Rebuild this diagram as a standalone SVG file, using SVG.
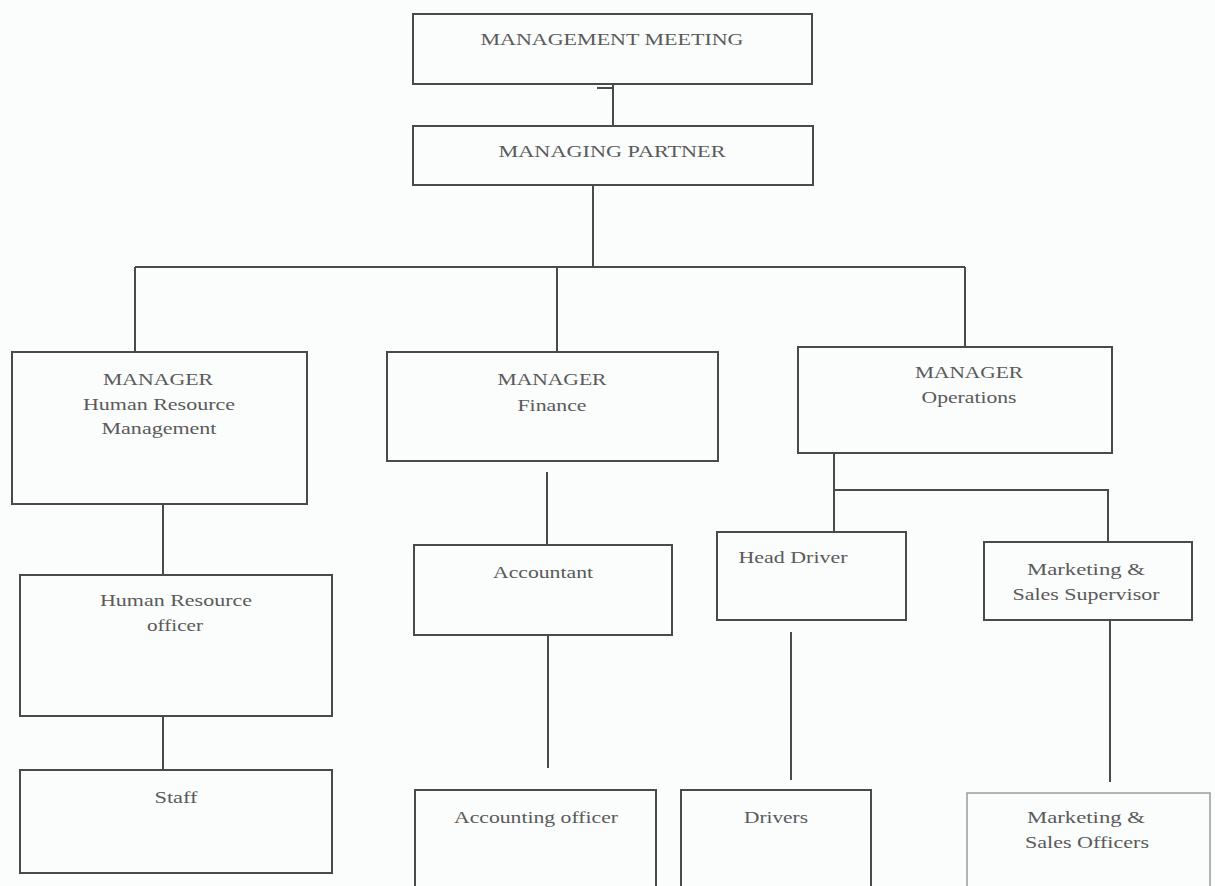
<svg xmlns="http://www.w3.org/2000/svg" width="1215" height="886" viewBox="0 0 1215 886">
<style>
.box{fill:none;stroke:#4a4a4a;stroke-width:2}
.light{fill:none;stroke:#9a9a9a;stroke-width:1.5}
.ln{fill:none;stroke:#4a4a4a;stroke-width:2}
text{font-family:"Liberation Serif","Times New Roman",serif;font-size:17px;fill:#5a5a5a;text-anchor:middle}
</style>
<rect width="1215" height="886" fill="#fbfcfc"/>
<g id="connectors">
<path class="ln" d="M613 84V126M597 88H613"/>
<path class="ln" d="M593 185V267M135 267H965M135 267V352M557 267V352M965 267V347"/>
<path class="ln" d="M163 504V575M163 716V770"/>
<path class="ln" d="M547 472V545M548 635V768"/>
<path class="ln" d="M834 453V532M834 490H1108V542"/>
<path class="ln" d="M791 632V780M1110 621V782"/>
</g>
<g id="n-meeting"><rect class="box" x="413" y="14" width="399" height="70"/><text x="612" y="45" textLength="263" lengthAdjust="spacingAndGlyphs">MANAGEMENT MEETING</text></g>
<g id="n-partner"><rect class="box" x="413" y="126" width="400" height="59"/><text x="612" y="157" textLength="227" lengthAdjust="spacingAndGlyphs">MANAGING PARTNER</text></g>
<g id="n-hrm"><rect class="box" x="12" y="352" width="295" height="152"/><text x="158" y="385" textLength="110" lengthAdjust="spacingAndGlyphs">MANAGER</text><text x="159" y="410" textLength="152" lengthAdjust="spacingAndGlyphs">Human Resource</text><text x="159" y="434" textLength="115" lengthAdjust="spacingAndGlyphs">Management</text></g>
<g id="n-fin"><rect class="box" x="387" y="352" width="331" height="109"/><text x="552" y="385" textLength="109" lengthAdjust="spacingAndGlyphs">MANAGER</text><text x="552" y="411" textLength="69" lengthAdjust="spacingAndGlyphs">Finance</text></g>
<g id="n-ops"><rect class="box" x="798" y="347" width="314" height="106"/><text x="969" y="378" textLength="108" lengthAdjust="spacingAndGlyphs">MANAGER</text><text x="969" y="403" textLength="95" lengthAdjust="spacingAndGlyphs">Operations</text></g>
<g id="n-hro"><rect class="box" x="20" y="575" width="312" height="141"/><text x="176" y="606" textLength="152" lengthAdjust="spacingAndGlyphs">Human Resource</text><text x="175" y="631" textLength="56" lengthAdjust="spacingAndGlyphs">officer</text></g>
<g id="n-staff"><rect class="box" x="20" y="770" width="312" height="103"/><text x="176" y="803" textLength="43" lengthAdjust="spacingAndGlyphs">Staff</text></g>
<g id="n-acc"><rect class="box" x="414" y="545" width="258" height="90"/><text x="543" y="578" textLength="100" lengthAdjust="spacingAndGlyphs">Accountant</text></g>
<g id="n-acco"><rect class="box" x="415" y="790" width="241" height="110"/><text x="536" y="823" textLength="164" lengthAdjust="spacingAndGlyphs">Accounting officer</text></g>
<g id="n-hd"><rect class="box" x="717" y="532" width="189" height="88"/><text x="793" y="563" textLength="109" lengthAdjust="spacingAndGlyphs">Head Driver</text></g>
<g id="n-drv"><rect class="box" x="681" y="790" width="190" height="110"/><text x="776" y="823" textLength="64" lengthAdjust="spacingAndGlyphs">Drivers</text></g>
<g id="n-mss"><rect class="box" x="984" y="542" width="208" height="78"/><text x="1086" y="575" textLength="118" lengthAdjust="spacingAndGlyphs">Marketing  &amp;</text><text x="1086" y="600" textLength="147" lengthAdjust="spacingAndGlyphs">Sales Supervisor</text></g>
<g id="n-mso"><rect class="light" x="967" y="793" width="243" height="110"/><text x="1086" y="823" textLength="118" lengthAdjust="spacingAndGlyphs">Marketing  &amp;</text><text x="1087" y="848" textLength="124" lengthAdjust="spacingAndGlyphs">Sales Officers</text></g>
</svg>
